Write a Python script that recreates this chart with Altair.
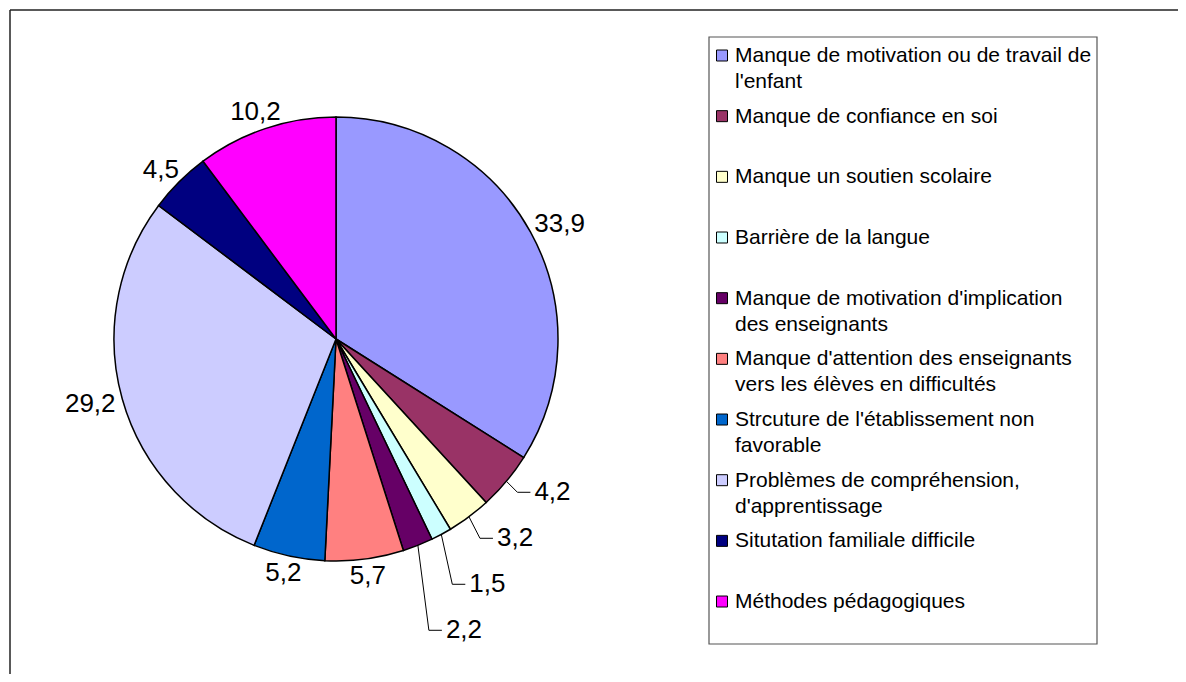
import math
import altair as alt
import pandas as pd

# ---------------- data ----------------
categories = [
    "Manque de motivation ou de travail de\nl'enfant",
    "Manque de confiance en soi",
    "Manque un soutien scolaire",
    "Barrière de la langue",
    "Manque de motivation d'implication\ndes enseignants",
    "Manque d'attention des enseignants\nvers les élèves en difficultés",
    "Strcuture de l'établissement non\nfavorable",
    "Problèmes de compréhension,\nd'apprentissage",
    "Situtation familiale difficile",
    "Méthodes pédagogiques",
]
values = [33.9, 4.2, 3.2, 1.5, 2.2, 5.7, 5.2, 29.2, 4.5, 10.2]
colors = ["#9999FF", "#993366", "#FFFFCC", "#CCFFFF", "#660066",
          "#FF8080", "#0066CC", "#CCCCFF", "#000080", "#FF00FF"]

# ---------------- layout ----------------
FONT = "Liberation Sans"
W, H = 1170, 666
CX, CY, R = 328, 331, 222
LAB_FS = 26
LEG_FS = 21
n = len(values)
total = sum(values)

xs = alt.Scale(domain=[0, W], range=[0, W], nice=False, zero=False)
ys = alt.Scale(domain=[0, H], range=[0, H], nice=False, zero=False)
cscale = alt.Scale(domain=categories, range=colors)


def text_w(s, fs):
    return sum(0.278 if ch == "," else 0.556 for ch in s) * fs


labels = [f"{v:.1f}".replace(".", ",") for v in values]
small = [v < 5 for v in values]
leader = [small[i] and ((i > 0 and small[i - 1]) or (i < n - 1 and small[i + 1]))
          for i in range(n)]

norm_rows, lead_rows, seg_rows = [], [], []
cum = 0.0
prev_y = None
for i, v in enumerate(values):
    mid = (cum + v / 2) / total * 2 * math.pi
    cum += v
    s, c = math.sin(mid), math.cos(mid)
    if not leader[i]:
        w = text_w(labels[i], LAB_FS)
        h = 0.7 * LAB_FS
        g = R + 8
        norm_rows.append({"px": CX + g * s + s * w / 2,
                          "py": CY - g * c - c * h / 2,
                          "txt": labels[i]})
    else:
        ex, ey = CX + R * s, CY - R * c
        by = ey + 11
        if prev_y is not None:
            by = max(by, prev_y + 46)
        prev_y = by
        bx = ex + 11
        endx = bx + 13
        seg_rows.append({"x1": ex, "y1": ey, "x2": bx, "y2": by})
        seg_rows.append({"x1": bx, "y1": by, "x2": endx, "y2": by})
        lead_rows.append({"px": endx + 4, "py": by, "txt": labels[i]})

df = pd.DataFrame({"cat": categories, "value": values, "idx": list(range(n))})
df["ty"] = [54 + i * 60.67 for i in range(n)]
df["sy"] = df["ty"] - 6.5

df_norm = pd.DataFrame(norm_rows)
df_lead = pd.DataFrame(lead_rows)
df_seg = pd.DataFrame(seg_rows)
one = pd.DataFrame({"k": [0]})

# ---------------- marks ----------------
border_top = alt.Chart(one).mark_rule(color="#222222", strokeWidth=1.5).encode(
    x=alt.value(2), x2=alt.value(W + 20), y=alt.value(2))
border_left = alt.Chart(one).mark_rule(color="#222222", strokeWidth=1.5).encode(
    x=alt.value(2), y=alt.value(2), y2=alt.value(H + 20))

pie = alt.Chart(df).mark_arc(radius=R, stroke="black", strokeWidth=1.5).encode(
    theta=alt.Theta("value:Q", stack=True),
    color=alt.Color("cat:N", scale=cscale, legend=None),
    order=alt.Order("idx:Q"),
    x=alt.value(CX), y=alt.value(CY),
)

lab_norm = alt.Chart(df_norm).mark_text(
    font=FONT, fontSize=LAB_FS, color="black", align="center", baseline="middle"
).encode(
    x=alt.X("px:Q", scale=xs, axis=None),
    y=alt.Y("py:Q", scale=ys, axis=None),
    text="txt:N",
)

lab_lead = alt.Chart(df_lead).mark_text(
    font=FONT, fontSize=LAB_FS, color="black", align="left", baseline="middle"
).encode(
    x=alt.X("px:Q", scale=xs, axis=None),
    y=alt.Y("py:Q", scale=ys, axis=None),
    text="txt:N",
)

segs = alt.Chart(df_seg).mark_rule(color="black", strokeWidth=1).encode(
    x=alt.X("x1:Q", scale=xs, axis=None),
    y=alt.Y("y1:Q", scale=ys, axis=None),
    x2="x2:Q", y2="y2:Q",
)

leg_box = alt.Chart(one).mark_rect(fill="white", stroke="#555555", strokeWidth=1.2).encode(
    x=alt.value(701), x2=alt.value(1089), y=alt.value(29), y2=alt.value(636))

leg_sym = alt.Chart(df).mark_square(size=121, filled=True, stroke="black",
                                    strokeWidth=1, opacity=1).encode(
    x=alt.value(714),
    y=alt.Y("sy:Q", scale=ys, axis=None),
    color=alt.Color("cat:N", scale=cscale, legend=None),
)

leg_txt = alt.Chart(df).mark_text(
    font=FONT, fontSize=LEG_FS, color="black", align="left",
    baseline="alphabetic", lineBreak="\n", lineHeight=26
).encode(
    x=alt.value(727),
    y=alt.Y("ty:Q", scale=ys, axis=None),
    text="cat:N",
)

chart = alt.layer(
    border_top, border_left, segs, pie, lab_norm, lab_lead, leg_box, leg_sym, leg_txt
).properties(
    width=W, height=H, padding=0, autosize=alt.AutoSizeParams(type="none"),
    background="white",
).configure_view(stroke=None)

chart.save("out.html", embed_options={"renderer": "svg", "actions": False})
